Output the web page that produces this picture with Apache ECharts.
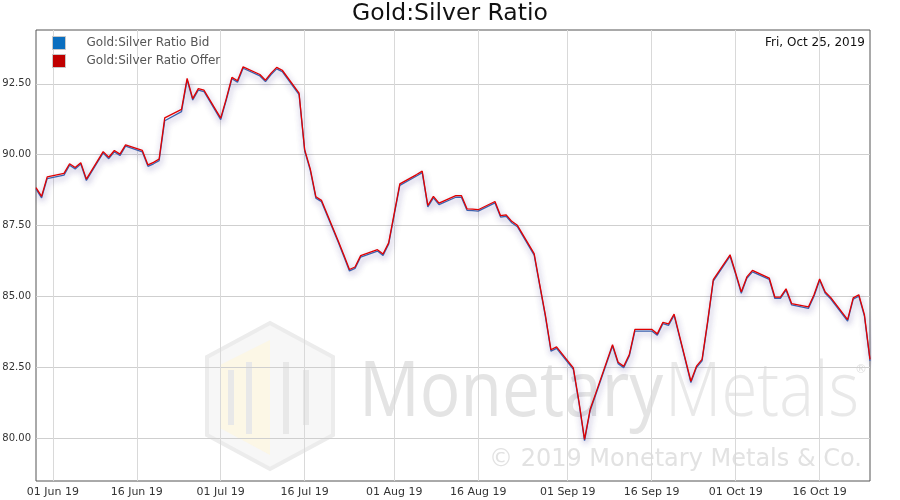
<!DOCTYPE html>
<html>
<head>
<meta charset="utf-8">
<script src="https://cdn.jsdelivr.net/npm/echarts@6/dist/echarts.min.js"></script>
<style>html,body{margin:0;padding:0;background:#fff}#c{width:900px;height:500px}</style>
</head>
<body>
<div id="c"></div>
<script>
const dates = [
'2019-05-29','2019-05-30','2019-05-31',
'2019-06-03','2019-06-04','2019-06-05','2019-06-06','2019-06-07',
'2019-06-10','2019-06-11','2019-06-12','2019-06-13','2019-06-14',
'2019-06-17','2019-06-18','2019-06-19','2019-06-20','2019-06-21',
'2019-06-24','2019-06-25','2019-06-26','2019-06-27','2019-06-28',
'2019-07-01','2019-07-02','2019-07-03','2019-07-04','2019-07-05',
'2019-07-08','2019-07-09','2019-07-10','2019-07-11','2019-07-12',
'2019-07-15','2019-07-16','2019-07-17','2019-07-18','2019-07-19',
'2019-07-22','2019-07-23','2019-07-24','2019-07-25','2019-07-26',
'2019-07-29','2019-07-30','2019-07-31','2019-08-01','2019-08-02',
'2019-08-05','2019-08-06','2019-08-07','2019-08-08','2019-08-09',
'2019-08-12','2019-08-13','2019-08-14','2019-08-15','2019-08-16',
'2019-08-19','2019-08-20','2019-08-21','2019-08-22','2019-08-23',
'2019-08-26','2019-08-27','2019-08-28','2019-08-29','2019-08-30',
'2019-09-02','2019-09-03','2019-09-04','2019-09-05','2019-09-06',
'2019-09-09','2019-09-10','2019-09-11','2019-09-12','2019-09-13',
'2019-09-16','2019-09-17','2019-09-18','2019-09-19','2019-09-20',
'2019-09-23','2019-09-24','2019-09-25','2019-09-26','2019-09-27',
'2019-09-30','2019-10-01','2019-10-02','2019-10-03','2019-10-04',
'2019-10-07','2019-10-08','2019-10-09','2019-10-10','2019-10-11',
'2019-10-14','2019-10-15','2019-10-16','2019-10-17','2019-10-18',
'2019-10-21','2019-10-22','2019-10-23','2019-10-24','2019-10-25'
];
const bid = [
88.79,88.48,89.16,
89.28,89.63,89.50,89.67,89.09,
90.06,89.86,90.10,89.97,90.30,
90.10,89.59,89.68,89.79,91.20,
91.52,92.64,91.93,92.28,92.23,
91.24,91.93,92.68,92.56,93.05,
92.78,92.58,92.83,93.03,92.93,
92.12,90.13,89.45,88.47,88.34,
86.91,86.41,85.90,85.99,86.39,
86.60,86.45,86.84,87.88,88.92,
89.25,89.37,88.16,88.48,88.24,
88.50,88.50,88.04,88.03,88.01,
88.30,87.80,87.83,87.60,87.46,
86.46,85.37,84.30,83.07,83.17,
82.43,81.25,79.91,80.97,81.53,
83.25,82.63,82.49,82.90,83.78,
83.78,83.63,84.04,83.98,84.33,
81.96,82.49,82.73,84.08,85.54,
86.42,85.78,85.11,85.64,85.87,
85.60,84.93,84.93,85.22,84.70,
84.58,85.01,85.57,85.11,84.91,
84.13,84.90,85.01,84.31,82.73
];
const offer = [
88.84,88.53,89.22,
89.34,89.68,89.55,89.72,89.14,
90.11,89.91,90.15,90.02,90.35,
90.15,89.64,89.73,89.85,91.30,
91.60,92.69,91.98,92.33,92.28,
91.29,91.98,92.73,92.61,93.10,
92.83,92.63,92.88,93.08,92.98,
92.17,90.18,89.50,88.52,88.39,
86.96,86.46,85.95,86.04,86.44,
86.65,86.50,86.89,87.93,88.97,
89.30,89.42,88.21,88.53,88.29,
88.56,88.56,88.09,88.08,88.06,
88.35,87.85,87.88,87.65,87.51,
86.51,85.42,84.35,83.12,83.22,
82.48,81.30,79.96,81.02,81.58,
83.30,82.68,82.54,82.95,83.84,
83.84,83.68,84.09,84.03,84.38,
82.01,82.54,82.78,84.13,85.59,
86.47,85.83,85.16,85.69,85.92,
85.65,84.98,84.98,85.27,84.75,
84.63,85.06,85.62,85.16,84.96,
84.18,84.95,85.06,84.36,82.78
];
const xTickDates = ['2019-06-01','2019-06-16','2019-07-01','2019-07-16','2019-08-01','2019-08-16','2019-09-01','2019-09-16','2019-10-01','2019-10-16'];
const xTickLabels = ['01 Jun 19','16 Jun 19','01 Jul 19','16 Jul 19','01 Aug 19','16 Aug 19','01 Sep 19','16 Sep 19','01 Oct 19','16 Oct 19'];
const yTicks = [80, 82.5, 85, 87.5, 90, 92.5];
const yMin = 78.49, yMax = 94.4;
const titleText = 'Gold:Silver Ratio';
const seriesNames = ['Gold:Silver Ratio Bid', 'Gold:Silver Ratio Offer'];
const dateText = 'Fri, Oct 25, 2019';

const FONT = 'DejaVu Sans';
const ts = d => Date.UTC(+d.slice(0, 4), +d.slice(5, 7) - 1, +d.slice(8, 10));
const dateTs = dates.map(ts);
const tickTs = xTickDates.map(ts);
const chart = echarts.init(document.getElementById('c'), null, {renderer: 'canvas'});
const shadow = {shadowColor: 'rgba(60,50,140,0.35)', shadowBlur: 6, shadowOffsetX: 1, shadowOffsetY: 3};

chart.setOption({
  animation: false,
  backgroundColor: '#fff',
  textStyle: {fontFamily: FONT},
  title: {text: titleText, left: 'center', top: -3, textStyle: {fontFamily: FONT, fontSize: 23.5, fontWeight: 'normal', color: '#111'}},
  legend: {
    orient: 'vertical', left: 47, top: 31, itemWidth: 13, itemHeight: 13, itemGap: 4,
    icon: 'rect',
    textStyle: {fontFamily: FONT, fontSize: 12, color: '#555', padding: [0, 0, 0, 16]},
    data: [
      {name: seriesNames[0], itemStyle: {color: '#0b6fc0', borderColor: '#c8c8c8', borderWidth: 1}},
      {name: seriesNames[1], itemStyle: {color: '#c00000', borderColor: '#c8c8c8', borderWidth: 1}}
    ]
  },
  grid: {left: 36, right: 30, top: 30, bottom: 19, show: true, borderColor: '#555', borderWidth: 1, containLabel: false, outerBoundsMode: 'none'},
  xAxis: {
    type: 'value', min: dateTs[0], max: dateTs[dateTs.length - 1],
    axisLine: {show: false},
    axisTick: {show: false, customValues: tickTs},
    axisLabel: {customValues: tickTs, fontFamily: FONT, fontSize: 11, color: '#333', margin: 6,
      formatter: v => { const i = tickTs.indexOf(v); return i >= 0 ? xTickLabels[i] : ''; }},
    splitLine: {show: true, lineStyle: {color: '#d9d9d9', width: 1}}
  },
  yAxis: {
    type: 'value', min: yMin, max: yMax,
    axisLine: {show: false},
    axisTick: {show: false, customValues: yTicks},
    axisLabel: {customValues: yTicks, fontFamily: FONT, fontSize: 10, color: '#333', margin: 5, formatter: v => v.toFixed(2)},
    splitLine: {show: true, lineStyle: {color: '#cfcfcf', width: 1}}
  },
  graphic: [
    {type: 'text', right: 35, top: 37, z: 10, style: {text: dateText, font: '12px "DejaVu Sans"', fill: '#111'}},
    {type: 'group', z: -1, silent: true, children: [
      {type: 'polygon', shape: {points: [[270,323],[333,357],[333,435],[270,469],[207,435],[207,357]]}, style: {fill: 'rgba(240,240,240,0.5)', stroke: '#ececec', lineWidth: 4}},
      {type: 'polygon', shape: {points: [[270,340],[270,455],[220,428],[220,365]]}, style: {fill: 'rgba(252,246,225,0.8)'}},
      {type: 'rect', shape: {x: 228, y: 370, width: 6, height: 55}, style: {fill: '#e8e8e8'}},
      {type: 'rect', shape: {x: 246, y: 362, width: 6, height: 72}, style: {fill: '#e8e8e8'}},
      {type: 'rect', shape: {x: 283, y: 362, width: 6, height: 72}, style: {fill: '#e8e8e8'}},
      {type: 'rect', shape: {x: 303, y: 370, width: 6, height: 55}, style: {fill: '#e8e8e8'}},
      {type: 'text', x: 359, y: 356, scaleX: 0.89, style: {text: 'Monetary', font: '76px "Open Sans"', fill: '#e4e4e4'}},
      {type: 'text', x: 665, y: 356, scaleX: 0.86, style: {text: 'Metals', font: '300 76px "Open Sans"', fill: '#e9e9e9'}},
      {type: 'text', x: 855, y: 364, style: {text: '\u00ae', font: '12px "DejaVu Sans"', fill: '#e0e0e0'}},
      {type: 'text', x: 489, y: 448, style: {text: '\u00a9 2019 Monetary Metals & Co.', font: '24px "DejaVu Sans"', fill: '#e2e2e2'}}
    ]}
  ],
  series: [
    {name: seriesNames[0], type: 'line', data: dateTs.map((t, i) => [t, bid[i]]), showSymbol: false, z: 3,
      itemStyle: {color: '#0b6fc0'}, lineStyle: Object.assign({color: '#3d64b0', width: 1.3}, shadow)},
    {name: seriesNames[1], type: 'line', data: dateTs.map((t, i) => [t, offer[i]]), showSymbol: false, z: 4,
      itemStyle: {color: '#c00000'}, lineStyle: Object.assign({color: '#e00000', width: 1.3}, shadow)}
  ]
});
</script>
</body>
</html>
